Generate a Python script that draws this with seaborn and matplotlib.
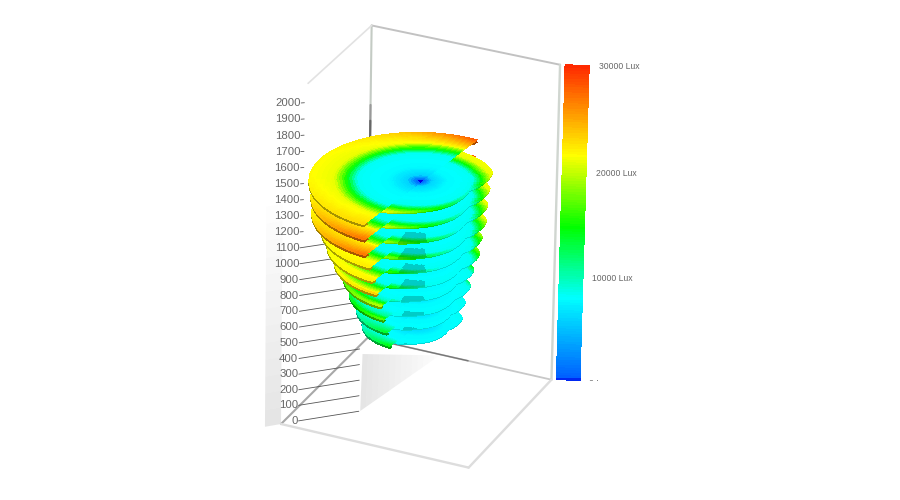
import numpy as np
import matplotlib
matplotlib.use("Agg")
import matplotlib.pyplot as plt
import seaborn as sns
from matplotlib.transforms import Bbox

# height of each illuminance slice, top one first
levels = [1400, 1300, 1200, 1100, 1000, 900, 800, 700, 600, 500]
# outer radius of the big half of each slice and of the small half
lobe_radius = [1.08, 1.06, 1.05, 0.96, 0.90, 0.83, 0.74, 0.68, 0.61, 0.55]
small_radius = [0.73, 0.71, 0.69, 0.68, 0.64, 0.62, 0.56, 0.53, 0.48, 0.45]
# extra lux on the rim near the front cut
tip_heat = [1500, 6000, 6000, 1000, 1000, 3000, 4000, 5000, 6000, 7000]
# outline of the small half, relative to small_radius
shape_angle = [240, 270, 317, 340, 360, 379, 420]
shape_factor = [1.03, 0.88, 0.72, 0.68, 0.83, 1.0, 1.05]
# illuminance against distance from the centre
profile_radius = [0.0, 0.06, 0.12, 0.30, 0.60, 0.70, 0.82, 1.00, 1.15]
profile_lux = [0, 2500, 6000, 7800, 8300, 14800, 21000, 21500, 22000]

tick_values = list(range(0, 2100, 100))
bar_ticks = [0, 10000, 20000, 30000]
bar_labels = ["0 Lux", "10000 Lux", "20000 Lux", "30000 Lux"]
# colour scale
lux_stops = [0, 300, 8000, 14800, 21600, 30000]
lux_colors = ["#0000e8", "#0060ff", "#00ffff", "#00ff00", "#ffff00", "#ff2a00"]

sns.set_theme(style="white")
plt.rcParams["font.family"] = ["Liberation Sans", "DejaVu Sans"]
cmap = sns.blend_palette(lux_colors, as_cmap=True)
stop_pos = np.linspace(0, 1, len(lux_stops))


def lux_color(lux):
    return cmap(np.interp(lux, lux_stops, stop_pos))


fig = plt.figure(figsize=(9, 5), dpi=100)
ax = fig.add_axes([-0.041, -0.004, 1, 1], projection="3d")
ax.computed_zorder = False
ax.set_proj_type("persp", focal_length=2.6)
ax.view_init(elev=27, azim=-66, roll=-1.0)
ax.set_xlim(-1, 1)
ax.set_ylim(-1, 1)
ax.set_zlim(0, 2000)
ax.set_box_aspect((1, 1, 1.72), zoom=0.893)
ax.set_axis_off()
ax.patch.set_alpha(0)

azim = np.deg2rad(-66)
right = np.array([-np.sin(azim), np.cos(azim)])
away = np.array([-np.cos(azim), -np.sin(azim)])


def grey_patch(p0, p1, p2, p3, g0, g1, n=14):
    # soft shadow: fades from edge p0-p1 (g0) to edge p3-p2 (g1)
    t = np.linspace(0, 1, n + 1)
    p0, p1, p2, p3 = map(np.array, (p0, p1, p2, p3))
    a = np.outer(1 - t, p0) + np.outer(t, p3)
    b = np.outer(1 - t, p1) + np.outer(t, p2)
    X = np.column_stack([a[:, 0], b[:, 0]])
    Y = np.column_stack([a[:, 1], b[:, 1]])
    Z = np.column_stack([a[:, 2], b[:, 2]])
    fc = np.zeros((n, 1, 4))
    fc[..., :3] = 0.5
    fc[:, 0, 3] = np.linspace(g0, g1, n)
    ax.plot_surface(X, Y, Z, facecolors=fc, shade=False, linewidth=0,
                    antialiased=True, rstride=1, cstride=1, zorder=0)


def edge(p, q, color, lw, zorder=2, alpha=1.0):
    ax.plot(*zip(p, q), color=color, lw=lw, zorder=zorder, alpha=alpha,
            solid_capstyle="round")


def draw_half(theta_deg, outer, level, heat, squeeze, under_dark, under_drop, shadow, zorder):
    s = np.linspace(0, 1, 45)
    th = np.deg2rad(theta_deg)[None, :]
    rr = np.outer(s, outer)
    X = rr * (np.cos(th) * right[0] + np.sin(th) * away[0])
    Y = rr * (np.cos(th) * right[1] + np.sin(th) * away[1])
    Z = np.full_like(X, level, dtype=float)
    rim = np.clip((s[:, None] - 0.72) / 0.28, 0, 1)
    back = np.clip((150 - theta_deg[None, :]) / 90, 0, 1) ** 2 * 7000
    front = np.clip((theta_deg[None, :] - 175) / 65, 0, 1) * heat
    lux = np.interp(rr * squeeze, profile_radius, profile_lux) + rim * (back + front)
    colors = lux_color(lux)[:-1, :-1]
    # underside, seen as a dark rim below the slice
    under = colors[-3:].copy()
    under[..., :3] *= under_dark
    ax.plot_surface(X[-4:], Y[-4:], Z[-4:] - under_drop, facecolors=under, shade=False, linewidth=0,
                    antialiased=False, rstride=1, cstride=1, zorder=zorder)
    # shadow cast by the slice above
    if shadow:
        mid = theta_deg[:-1][None, :]
        mask = (mid > 250) & (mid < 276) & (rr[:-1, :-1] > 0.42)
        colors[mask, :3] *= 0.8
    ax.plot_surface(X, Y, Z, facecolors=colors, shade=False, linewidth=0, antialiased=False,
                    rstride=1, cstride=1, zorder=zorder + 1)


# shadows on the floor and beside the scale
grey_patch((-1.116, -1.12, 0), (-1.0, -1.0, 0), (-1.0, -1.0, 1500), (-1.116, -1.12, 1500), 0.2, 0.0)
grey_patch((-0.42, -0.42, 0), (-0.9, 0.67, 0), (-0.2, 0.98, 0), (-0.2, 0.98, 0), 0.2, 0.02)

# frame of the box
edge((-1, 1, 0), (-1, 1, 2000), "#c4cbc4", 1.5, zorder=1)
edge((-1, 1, 1290), (-1, 1, 1500), "#999999", 1.5, zorder=1)
edge((-1, 1, 1290), (-1, 1, 1400), "#666666", 1.5, zorder=1)
edge((-1, 1, 2000), (1, 1, 2000), "#c2c2c2", 1.4, zorder=1)
edge((-1, 1, 2000), (-1, -0.45, 2000), "#e2e2e2", 1.2, zorder=1)
edge((1, 1, 0), (1, 1, 2000), "#d0d6d0", 1.7, zorder=1)
edge((-1, -1, 0), (-1, 1, 0), "#a8a8a8", 1.5, zorder=1)
edge((-1, 1, 0), (1, 1, 0), "#c8c8c8", 1.3, zorder=1)
edge((-1, 1, 0), (0.1, 1, 0), "#777777", 1.0, zorder=1)
edge((-1, -1, 0), (1, -1, 0), "#dddddd", 1.7, zorder=1)
edge((1, -1, 0), (1, 1, 0), "#dddddd", 1.7, zorder=1)

# height ticks on the inner wall, labels sit in front of them
for z in tick_values:
    end = -0.43 if z <= 1100 else -0.85
    edge((-0.875, -0.868, z), (end, end, z), "#555555", 0.6, zorder=3)
    t = ax.text(-0.88, -0.873, z, str(z), ha="right", va="center", fontsize=8.2,
                color="#666666", zorder=4)
    if z == 0:
        t.set_clip_box(Bbox.from_extents(0, 76, 900, 500))
        t.set_clip_on(True)

# slices, bottom one drawn first
lobe_theta = np.arange(60, 241, 3.0)
small_theta = np.arange(240, 421, 3.0)
# the colour rings sit closer to the centre on the small half
small_squeeze = np.interp(small_theta, [240, 340], [1.12, 1.25])[None, :]
for i in range(len(levels) - 1, -1, -1):
    order = 10 + 4 * (len(levels) - i)
    small = small_radius[i] * np.interp(small_theta, shape_angle, shape_factor)
    big = np.full_like(lobe_theta, lobe_radius[i])
    draw_half(small_theta, small, levels[i], 0, small_squeeze, 0.85, 6, i >= 2, order)
    # big half spans 60-240 degrees on screen
    draw_half(lobe_theta, big, levels[i], tip_heat[i], 1.0, 0.65, 14, False, order + 2)

# colour scale standing beyond the right corner
bar_lux = np.linspace(0, 30000, 120)
bar_z = bar_lux / 15
bx0, by0, bx1, by1 = 1.043, 1.022, 1.26, 1.108
bX = np.column_stack([np.full_like(bar_z, bx0), np.full_like(bar_z, bx1)])
bY = np.column_stack([np.full_like(bar_z, by0), np.full_like(bar_z, by1)])
bZ = np.column_stack([bar_z, bar_z])
bar_fc = lux_color((bar_lux[:-1] + bar_lux[1:])[:, None] / 2)
ax.plot_surface(bX, bY, bZ, facecolors=bar_fc, shade=False, linewidth=0, antialiased=False,
                rstride=1, cstride=1, zorder=60)
for val, lab in zip(bar_ticks, bar_labels):
    t = ax.text(1.35, 1.13, val / 15 - (10 if val == 0 else 0), lab, ha="left", va="center",
                fontsize=6.2, color="#666666", zorder=61)
    if val == 0:
        # only the upper half of this label shows
        t.set_clip_box(Bbox.from_extents(0, 119, 900, 500))
        t.set_clip_on(True)

fig.savefig("out.png", dpi=100, facecolor="white")
